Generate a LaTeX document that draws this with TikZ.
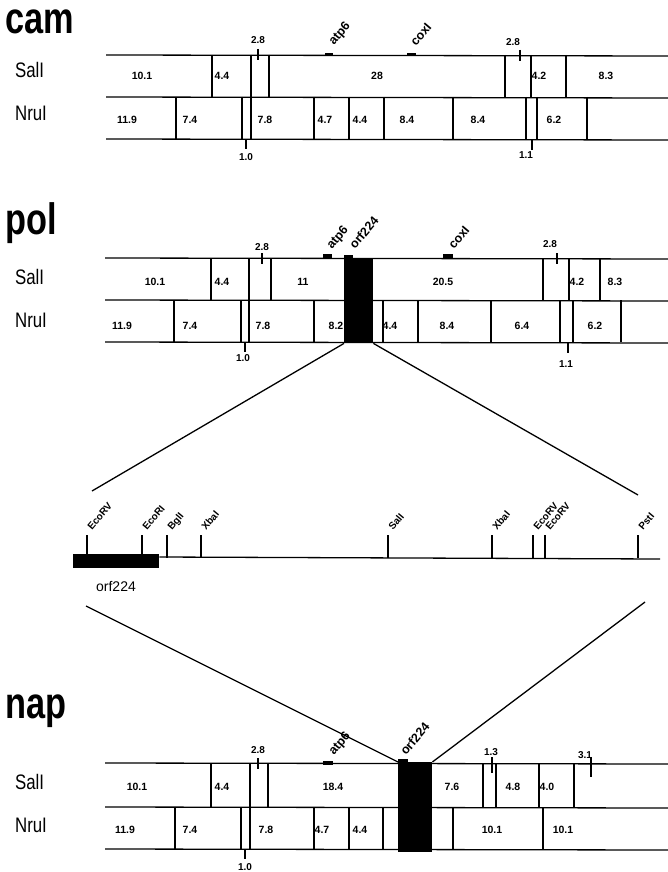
\documentclass[tikz,border=0pt]{standalone}
\usepackage{fontspec}
\setmainfont{Liberation Sans}
\begin{document}
\begin{tikzpicture}[x=1pt,y=-1pt,
  ml/.style={line width=1.3pt},
  vl/.style={line width=1.2pt},
  num/.style={font=\fontsize{10.5}{10.5}\selectfont\bfseries, inner sep=0pt},
  tl/.style={font=\fontsize{10}{10}\selectfont\bfseries, inner sep=0pt},
  gl/.style={font=\fontsize{12.5}{12.5}\selectfont\bfseries, rotate=50, anchor=base west, inner sep=0pt},
  sl/.style={font=\fontsize{10}{10}\selectfont\bfseries, rotate=50, anchor=base west, inner sep=0pt},
  ttl/.style={font=\fontsize{44}{44}\selectfont\bfseries, anchor=base west, xscale=0.78, inner sep=0pt},
  rowl/.style={font=\fontsize{21}{21}\selectfont, anchor=base west, xscale=0.8, inner sep=0pt},
  mk/.style={fill=black, draw=none, inner sep=0pt, anchor=north west},
  blk/.style={fill=black, draw=none, inner sep=0pt, anchor=north west}
]
\useasboundingbox (0,0) rectangle (668,872);

% ================= cam =================
\node[ttl, text height=24pt, text depth=0pt] (camT) at (5,34) {cam};
\node[rowl] (camS) at (15,78) {SalI};
\node[rowl] (camN) at (15,121) {NruI};
\draw[ml] (106,55) -- (668,56);
\draw[ml] (106,97) -- (668,98);
\draw[ml] (106,139) -- (668,140);
\foreach \x in {212,269,505,531,566} \draw[vl] (\x,55) -- (\x,97);
\draw[vl] (251,55) -- (251,139);
\foreach \x in {176,242,314,349,384,453,526,537,587} \draw[vl] (\x,97) -- (\x,139);
\foreach \x/\t in {142/10.1,222/4.4,377/28,539/4.2,606/8.3} \node[num] at (\x,76) {\t};
\foreach \x/\t in {127/11.9,190/7.4,265/7.8,325/4.7,360/4.4,407/8.4,478/8.4,554/6.2} \node[num] at (\x,120) {\t};
\draw[vl] (258,49) -- (258,60); \node[tl] (c28a) at (258,40) {2.8};
\draw[vl] (520,50) -- (520,61); \node[tl] (c28b) at (513,42) {2.8};
\draw[vl] (246,139) -- (246,149); \node[tl] (c10) at (246,157) {1.0};
\draw[vl] (532,140) -- (532,150); \node[tl] (c11) at (526,155) {1.1};
\node[mk, minimum width=8pt, minimum height=3pt] (camA) at (325,53) {};
\node[mk, minimum width=9pt, minimum height=3pt] (camC) at (407,53) {};
\node[gl] at (334,46) {atp6};
\node[gl] at (416,47) {coxI};

% ================= pol =================
\node[ttl] (polT) at (5,234) {pol};
\node[rowl] (polS) at (15,284) {SalI};
\node[rowl] (polN) at (15,327) {NruI};
\draw[ml] (105,258) -- (668,259);
\draw[ml] (105,300) -- (668,301);
\draw[ml] (105,342) -- (668,343);
\foreach \x in {211,271,543,569,600} \draw[vl] (\x,258) -- (\x,300);
\draw[vl] (249,258) -- (249,342);
\foreach \x in {174,241,314,383,418,491,560,573,621} \draw[vl] (\x,300) -- (\x,342);
\foreach \x/\t in {155/10.1,222/4.4,303/11,443/20.5,577/4.2,615/8.3} \node[num] at (\x,282) {\t};
\foreach \x/\t in {122/11.9,190/7.4,263/7.8,336/8.2,390/4.4,447/8.4,522/6.4,595/6.2} \node[num] at (\x,326) {\t};
\draw[vl] (262,253) -- (262,264); \node[tl] (p28a) at (262,247) {2.8};
\draw[vl] (557,253) -- (557,264); \node[tl] (p28b) at (550,244) {2.8};
\draw[vl] (245,342) -- (245,352); \node[tl] (p10) at (243,358) {1.0};
\draw[vl] (568,343) -- (568,353); \node[tl] (p11) at (566,364) {1.1};
\node[blk, minimum width=29pt, minimum height=84pt] (polbox) at (344,259) {};
\node[mk, minimum width=9pt, minimum height=4pt] (polA) at (323,254) {};
\node[mk, minimum width=9pt, minimum height=4pt] (polO) at (344,255) {};
\node[mk, minimum width=10pt, minimum height=4pt] (polC) at (443,254) {};
\node[gl] at (332,250) {atp6};
\node[gl] at (355,250) {orf224};
\node[gl] at (454,250) {coxI};

% ================= expanded map =================
\coordinate (eL) at (92,491);
\coordinate (eR) at (638,495);
\draw[ml] (polbox.south west) -- (eL);
\draw[ml] (polbox.south east) -- (eR);
\node[blk, minimum width=86pt, minimum height=14pt] (midbox) at (73,554) {};
\coordinate (mEnd) at (660,559);
\path (midbox.north east) ++(0,3) coordinate (mStart);
\draw[ml] (mStart) -- (mEnd);
\foreach \x/\t in {87/EcoRV,142/EcoRI,167/BglI,201/XbaI,388/SalI,492/XbaI,533/EcoRV,545/EcoRV,638/PstI}{
  \draw[vl] (\x,535) -- (\x,557.5);
  \node[sl] at (\x+5,531) {\t};
}
\node[font=\fontsize{14}{14}\selectfont, inner sep=0pt] (orfL) at (116,586) {orf224};

% ================= nap =================
\node[ttl] (napT) at (5,718) {nap};
\node[rowl] (napS) at (15,789) {SalI};
\node[rowl] (napN) at (15,832) {NruI};
\draw[ml] (105,763) -- (668,764);
\draw[ml] (105,807) -- (668,808);
\draw[ml] (105,849) -- (668,850);
\foreach \x in {211,268,483,496,539,574} \draw[vl] (\x,763) -- (\x,807);
\draw[vl] (250,763) -- (250,849);
\foreach \x in {175,241,314,349,383,453,543} \draw[vl] (\x,807) -- (\x,849);
\foreach \x/\t in {137/10.1,222/4.4,333/18.4,452/7.6,513/4.8,547/4.0} \node[num] at (\x,787) {\t};
\foreach \x/\t in {125/11.9,190/7.4,266/7.8,322/4.7,360/4.4,492/10.1,563/10.1} \node[num] at (\x,830) {\t};
\draw[vl] (258,758) -- (258,769); \node[tl] (n28) at (258,750) {2.8};
\draw[vl] (492,757) -- (492,773); \node[tl] (n13) at (491,752) {1.3};
\draw[vl] (591,757) -- (591,777); \node[tl] (n31) at (585,755) {3.1};
\draw[vl] (245,849) -- (245,859); \node[tl] (n10) at (245,867) {1.0};
\node[blk, minimum width=34pt, minimum height=90pt] (napbox) at (398,762) {};
\node[mk, minimum width=10pt, minimum height=4pt] (napA) at (323,761) {};
\node[mk, minimum width=10pt, minimum height=3pt] (napO) at (398,759) {};
\node[gl] at (334,756) {atp6};
\node[gl] at (406,756) {orf224};

\coordinate (fL) at (86,606);
\coordinate (fR) at (645,602);
\draw[ml] (fL) -- (napbox.north west);
\draw[ml] (fR) -- (napbox.north east);
\end{tikzpicture}
\end{document}
